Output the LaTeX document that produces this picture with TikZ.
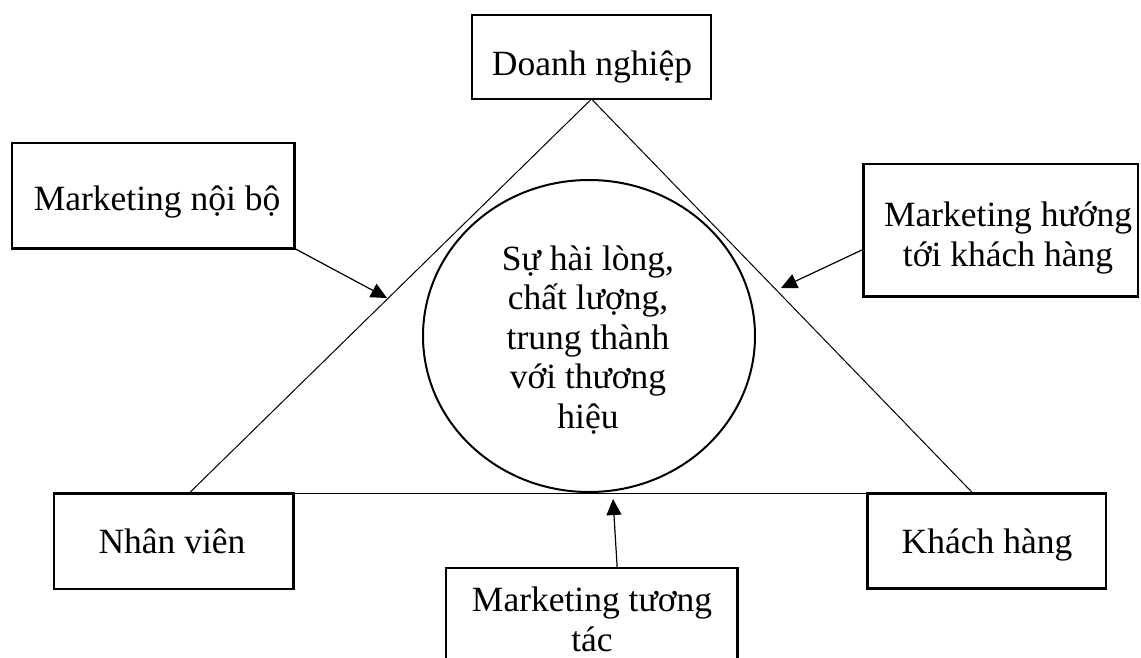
\documentclass[tikz,border=0pt]{standalone}
\usepackage{fontspec}
\setmainfont{Liberation Serif}
\usetikzlibrary{arrows.meta,shapes.geometric,calc}
\begin{document}
\begin{tikzpicture}[x=1pt,y=-1pt,
  box/.style={draw,line width=2.4pt,inner sep=0pt,outer sep=0pt},
  lbl/.style={inner sep=0pt,outer sep=0pt,align=center,
    font=\fontsize{35.5}{39.5}\selectfont},
  side/.style={line width=1pt},
  push/.style={line width=1.2pt,-{Triangle[length=16pt,width=15pt]}}]
\useasboundingbox (0,0) rectangle (1141,657);
\clip (0,0) rectangle (1141,657);

% frames
\node[box,minimum width=238.5pt,minimum height=84pt]    (dn)  at (591.5,57)   {};
\node[box,minimum width=282.6pt,minimum height=105.6pt] (mnb) at (153,195.5)  {};
\node[box,minimum width=274.7pt,minimum height=132.7pt] (mht) at (1000.7,230.3) {};
\node[box,minimum width=239.3pt,minimum height=95.4pt]  (nv)  at (173.7,541)  {};
\node[box,minimum width=238.7pt,minimum height=95pt]    (kh)  at (986.7,540.8) {};
\node[box,minimum width=291.3pt,minimum height=132pt]   (mtt) at (591.7,634)  {};

% central ellipse
\node[draw,ellipse,line width=2pt,inner sep=0pt,outer sep=0pt,
      minimum width=332pt,minimum height=312pt] (goal) at (589,336) {};

% texts (base anchor of a multi-line node sits on its last line)
\node[lbl,anchor=base] (dnt)  at (592,75)   {Doanh nghiệp};
\node[lbl,anchor=base] (mnbt) at (157,210)  {Marketing nội bộ};
\node[lbl,anchor=base] (mhtt) at (1008,266) {Marketing hướng\\tới khách hàng};
\node[lbl,anchor=base] (nvt)  at (172,553)  {Nhân viên};
\node[lbl,anchor=base] (kht)  at (987,553)  {Khách hàng};
\node[lbl,anchor=base] (mttt) at (592,651)  {Marketing tương\\tác};
\node[lbl,anchor=base] (goalt) at (588,428) {Sự hài lòng,\\chất lượng,\\trung thành\\với thương\\hiệu};

% triangle
\coordinate (footL) at ($(nv.north)+(15.3,0)$);
\coordinate (footR) at ($(kh.north)+(-13.7,0)$);
\draw[side] (dn.south) -- (footL);
\draw[side] (dn.south) -- (footR);
\draw[side] (nv.north east) -- (kh.north west);

% arrows onto the triangle
\coordinate (tipL) at (387,298);
\coordinate (tipR) at (781,288);
\coordinate (tipB) at (613,499);
\draw[push] (mnb.south east) -- (tipL);
\draw[push] ($(mht.west)+(0,19)$) -- (tipR);
\draw[push] ($(mtt.north)+(25.5,0)$) -- (tipB);
\end{tikzpicture}
\end{document}
